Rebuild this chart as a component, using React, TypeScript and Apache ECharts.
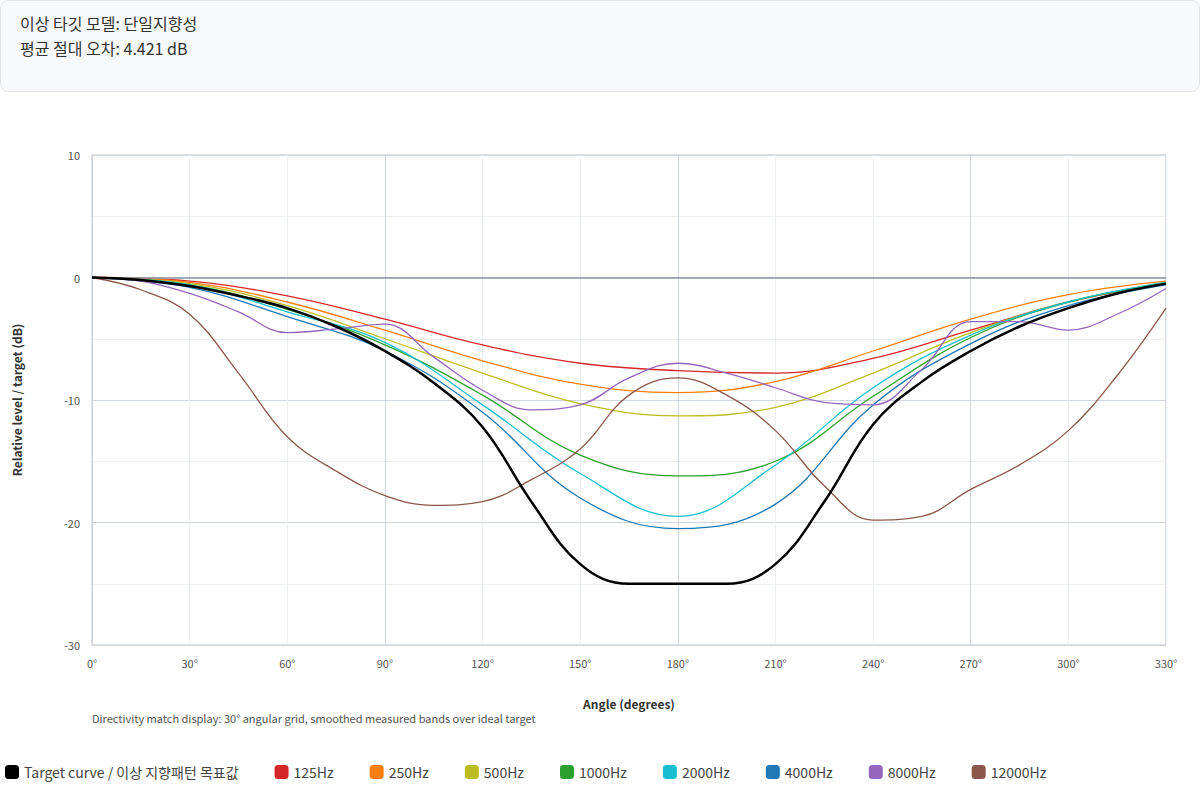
import React, { useEffect, useRef } from 'react';
import * as echarts from 'echarts';

const FONT = '"Noto Sans CJK KR", "Noto Sans", sans-serif';

const angles30 = [0, 30, 60, 90, 120, 150, 180, 210, 240, 270, 300, 330];
const angles15 = [0, 15, 30, 45, 60, 75, 90, 105, 120, 135, 150, 165, 180, 195, 210, 225, 240, 255, 270, 285, 300, 315, 330];

const target = [0, -0.2, -0.7, -1.5, -2.5, -4, -6, -8.6, -12.2, -18.3, -23.4, -25, -25, -25, -23.4, -18.3, -12, -8.5, -6, -4, -2.5, -1.3, -0.5];
const hz125 = [0, -0.3, -1.5, -3.4, -5.5, -7, -7.6, -7.8, -6.6, -4.3, -2, -0.5];
const hz250 = [0, -0.4, -2, -4.3, -6.8, -8.7, -9.4, -8.5, -6, -3.4, -1.4, -0.3];
const hz500 = [0, -0.5, -2.3, -5, -7.8, -10.3, -11.3, -10.6, -7.8, -4.5, -2, -0.4];
const hz1000 = [0, -0.6, -2.6, -5.5, -9.6, -14.5, -16.2, -15, -9.7, -4.9, -2, -0.5];
const hz2000 = [0, -0.6, -2.8, -5.3, -10.4, -16, -19.5, -15.3, -9, -4.7, -2, -0.4];
const hz4000 = [0, -0.8, -3.2, -6, -11, -18, -20.5, -18.5, -10.4, -5.4, -2.3, -0.6];
const hz8000 = [0, -0.3, -1.3, -2.8, -4.5, -4.2, -3.8, -6.5, -9.2, -10.8, -10.4, -8.2, -7, -7.8, -9, -10.2, -10.4, -7.5, -3.6, -3.6, -4.3, -3, -0.9];
const hz12000 = [0, -1, -3, -7.8, -13, -15.8, -17.8, -18.6, -18.3, -16.5, -14, -9.6, -8.2, -9.6, -12.5, -17, -19.8, -19.5, -17.3, -15.3, -12.5, -8, -2.5];

const bands = [
  { name: '125Hz', color: '#d62728', data: hz125, x: angles30 },
  { name: '250Hz', color: '#ff7f0e', data: hz250, x: angles30 },
  { name: '500Hz', color: '#bcbd22', data: hz500, x: angles30 },
  { name: '1000Hz', color: '#2ca02c', data: hz1000, x: angles30 },
  { name: '2000Hz', color: '#17becf', data: hz2000, x: angles30 },
  { name: '4000Hz', color: '#1f77b4', data: hz4000, x: angles30 },
  { name: '8000Hz', color: '#9467bd', data: hz8000, x: angles15 },
  { name: '12000Hz', color: '#8c564b', data: hz12000, x: angles15 },
];

const App: React.FC = () => {
  const chartRef = useRef<HTMLDivElement>(null);

  useEffect(() => {
    if (!chartRef.current) return;
    const chart = echarts.init(chartRef.current, undefined, { renderer: 'svg' });
    const option = {
      animation: false,
      textStyle: { fontFamily: FONT },
      graphic: [
        {
          type: 'rect',
          shape: { x: 0.5, y: 0.5, width: 1199, height: 91, r: 8 },
          style: { fill: '#f8f9fb', stroke: '#dfe3e8', lineWidth: 1 },
        },
        { type: 'text', left: 20, top: 15, style: { text: '이상 타깃 모델: 단일지향성', font: `16px ${FONT}`, fill: '#333' } },
        { type: 'text', left: 20, top: 40, style: { text: '평균 절대 오차: 4.421 dB', font: `16px ${FONT}`, fill: '#333' } },
        { type: 'text', left: 92, top: 712, style: { text: 'Directivity match display: 30° angular grid, smoothed measured bands over ideal target', font: `11px ${FONT}`, fill: '#555' } },
      ],
      legend: {
        left: 0,
        top: 760,
        icon: 'roundRect',
        itemWidth: 14,
        itemHeight: 14,
        itemGap: 36,
        textStyle: { fontSize: 14, color: '#444', fontFamily: FONT },
      },
      grid: { left: 92, right: 34, top: 155, bottom: 155, show: true, borderColor: '#b8c2cc', borderWidth: 1 },
      xAxis: {
        type: 'value',
        min: 0,
        max: 330,
        interval: 30,
        name: 'Angle (degrees)',
        nameLocation: 'middle',
        nameGap: 52,
        nameTextStyle: { fontSize: 12, fontWeight: 'bold', color: '#333' },
        axisLine: { show: false },
        axisTick: { show: false },
        axisLabel: { formatter: (v: number) => `${v}°`, fontSize: 11, color: '#555', margin: 12 },
        splitLine: { show: true, lineStyle: { color: ['#cfd6dd', '#eceff3', '#eceff3'] } },
      },
      yAxis: {
        type: 'value',
        min: -30,
        max: 10,
        interval: 5,
        name: 'Relative level / target (dB)',
        nameLocation: 'middle',
        nameGap: 70,
        nameTextStyle: { fontSize: 12, fontWeight: 'bold', color: '#333' },
        axisLine: { show: false },
        axisTick: { show: false },
        axisLabel: { fontSize: 11, color: '#555', margin: 12, formatter: (v: number) => (v % 10 === 0 ? `${v}` : '') },
        splitLine: { show: true, lineStyle: { color: ['#cfd6dd', '#eceff3'] } },
      },
      series: [
        {
          name: 'Target curve / 이상 지향패턴 목표값',
          type: 'line',
          smooth: 0.4,
          symbol: 'none',
          color: '#000',
          lineStyle: { width: 2.5, color: '#000' },
          data: angles15.map((a, i) => [a, target[i]]),
          z: 10,
          markLine: {
            silent: true,
            symbol: 'none',
            label: { show: false },
            lineStyle: { color: '#8a96a3', type: 'solid', width: 1.5 },
            data: [{ yAxis: 0 }],
          },
        },
        ...bands.map((b) => ({
          name: b.name,
          type: 'line',
          smooth: 0.4,
          symbol: 'none',
          color: b.color,
          lineStyle: { width: 1.3, color: b.color },
          data: b.x.map((a, i) => [a, b.data[i]]),
        })),
      ],
    };
    chart.setOption(option);
    return () => chart.dispose();
  }, []);

  return <div ref={chartRef} style={{ position: 'absolute', left: 0, top: 0, width: 1200, height: 800 }} />;
};

export default App;
